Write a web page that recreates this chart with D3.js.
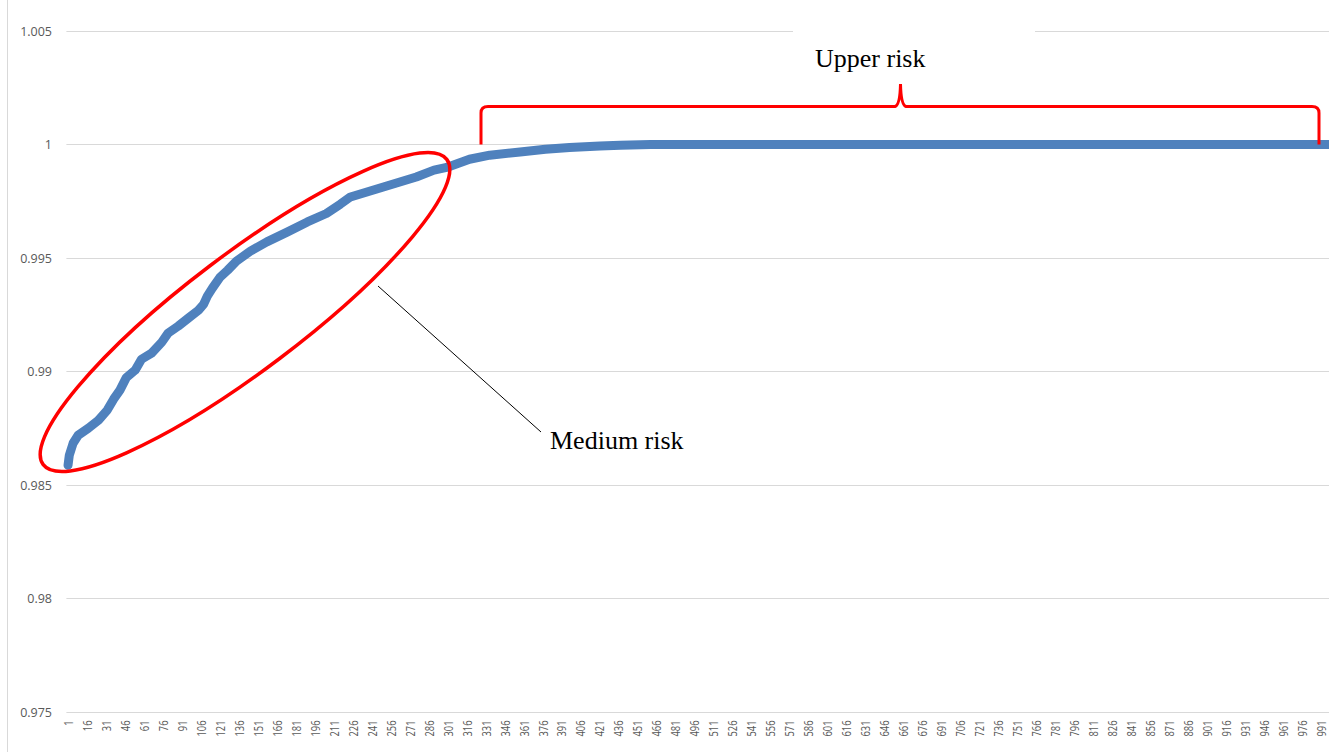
<!DOCTYPE html>
<html>
<head>
<meta charset="utf-8">
<script src="https://cdn.jsdelivr.net/npm/d3@7"></script>
<style>
  html, body { margin: 0; padding: 0; background: #fff; }
  svg { display: block; }
</style>
</head>
<body>
<div id="chart"></div>
<script>
// Sorted series: category index (1..1000) and value
const pointIndex = [1, 2, 5, 9, 17, 25, 32, 37, 42, 47, 54, 59, 67, 75, 80, 88, 96, 104, 108, 111,
  115, 121, 127, 134, 145, 158, 174, 190, 205, 216, 224, 237, 250, 263, 276, 290, 300, 318, 334, 358,
  378, 397, 421, 437, 461, 1000];
const pointValue = [0.98587, 0.98631, 0.98684, 0.98719, 0.98750, 0.98785, 0.98830, 0.98878, 0.98918, 0.98973,
  0.99006, 0.99054, 0.99081, 0.99129, 0.99169, 0.99200, 0.99235, 0.99270, 0.99296, 0.99332,
  0.99367, 0.99415, 0.99446, 0.99486, 0.99530, 0.99571, 0.99614, 0.99659, 0.99696, 0.99737,
  0.99769, 0.99791, 0.99813, 0.99835, 0.99857, 0.99887, 0.99899, 0.99935, 0.99953, 0.99967,
  0.99979, 0.99987, 0.99993, 0.99997, 1.0, 1.0];

const categoryCount = 1000;
const xTickValues = d3.range(1, categoryCount + 1, 15);          // 1, 16, 31, ... 991
const yTickValues = [0.975, 0.98, 0.985, 0.99, 0.995, 1, 1.005];
const yTickLabels = ["0.975", "0.98", "0.985", "0.99", "0.995", "1", "1.005"];

const W = 1329, H = 752;
const plotLeft = 67.4, step = 1.2664;
const plotRight = plotLeft + categoryCount * step;
const plotTop = 31, plotBottom = 712;

const svg = d3.select("#chart").append("svg")
  .attr("width", W).attr("height", H);

const x = d3.scaleLinear().domain([0.5, categoryCount + 0.5]).range([plotLeft, plotRight]);
const y = d3.scaleLinear().domain([0.975, 1.005]).range([plotBottom, plotTop]);

// chart area left border
svg.append("line")
  .attr("x1", 7.5).attr("x2", 7.5).attr("y1", 0).attr("y2", H)
  .attr("stroke", "#d9d9d9").attr("stroke-width", 1);

// horizontal gridlines
svg.append("g")
  .selectAll("line").data(yTickValues).join("line")
  .attr("x1", plotLeft - 1).attr("x2", plotRight)
  .attr("y1", d => Math.round(y(d)) + 0.5).attr("y2", d => Math.round(y(d)) + 0.5)
  .attr("stroke", "#d9d9d9").attr("stroke-width", 1.2);

// y axis labels
const yAxis = d3.axisLeft(y)
  .tickValues(yTickValues)
  .tickFormat((d, i) => yTickLabels[i])
  .tickSize(0).tickPadding(0);
const yg = svg.append("g").attr("transform", "translate(52,0)").call(yAxis);
yg.select(".domain").remove();
yg.selectAll("text")
  .attr("fill", "#595959")
  .attr("font-family", "'Open Sans', sans-serif")
  .attr("font-size", "12.5px")
  .attr("dy", "0.34em");

// x axis labels, rotated
const xg = svg.append("g");
xg.selectAll("text").data(xTickValues).join("text")
  .attr("transform", d => `translate(${x(d)},${plotBottom + 8.5}) scale(1.15,0.85) rotate(-90)`)
  .attr("text-anchor", "end")
  .attr("dy", "0.36em")
  .attr("fill", "#595959")
  .attr("font-family", "'Open Sans', sans-serif")
  .attr("font-size", "11px")
  .text(d => d);

// series line
const series = pointIndex.map((d, i) => ({ i: d, v: pointValue[i] }));
const line = d3.line().x(d => x(d.i)).y(d => y(d.v));
svg.append("path")
  .datum(series)
  .attr("d", line)
  .attr("fill", "none")
  .attr("stroke", "#4f81bd")
  .attr("stroke-width", 9)
  .attr("stroke-linejoin", "round")
  .attr("stroke-linecap", "round");

// "Medium risk" annotation: ellipse and leader line
svg.append("ellipse")
  .attr("cx", 245).attr("cy", 312)
  .attr("rx", 253).attr("ry", 58)
  .attr("transform", "rotate(-37.1,245,312)")
  .attr("fill", "none")
  .attr("stroke", "#ff0000")
  .attr("stroke-width", 3.5);

svg.append("line")
  .attr("x1", 378).attr("y1", 286).attr("x2", 541).attr("y2", 432)
  .attr("stroke", "#000").attr("stroke-width", 1);

svg.append("text")
  .attr("x", 550).attr("y", 449)
  .attr("font-family", "'Liberation Serif', 'Times New Roman', serif")
  .attr("font-size", "26px")
  .attr("fill", "#000")
  .text("Medium risk");

// "Upper risk" annotation: white label box and curly bracket
svg.append("rect")
  .attr("x", 793).attr("y", 18).attr("width", 242).attr("height", 60)
  .attr("fill", "#fff");

svg.append("text")
  .attr("x", 815).attr("y", 66.5)
  .attr("font-family", "'Liberation Serif', 'Times New Roman', serif")
  .attr("font-size", "26px")
  .attr("fill", "#000")
  .text("Upper risk");

const bracketY = y(1);
svg.append("path")
  .attr("d", `M481,${bracketY} L481,113 Q481,106.5 488,106.5 L895,106.5 Q900,105 900.5,84 Q901,105 906,106.5 L1312,106.5 Q1319,106.5 1319,113 L1319,${bracketY}`)
  .attr("fill", "none")
  .attr("stroke", "#ff0000")
  .attr("stroke-width", 3);
</script>
</body>
</html>
